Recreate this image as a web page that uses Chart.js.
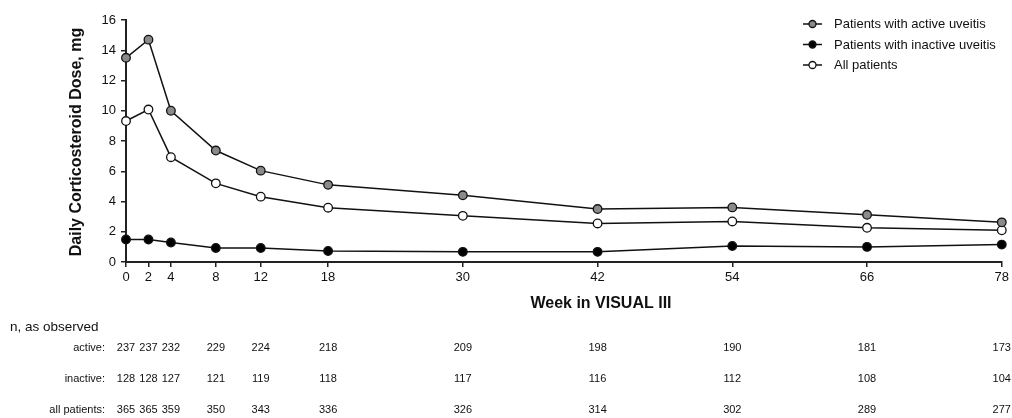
<!DOCTYPE html>
<html>
<head>
<meta charset="utf-8">
<script src="https://cdn.jsdelivr.net/npm/chart.js@4.4.1/dist/chart.umd.min.js"></script>
<style>
  html, body { margin: 0; padding: 0; background: #fff; }
  #wrap { width: 1012px; height: 418px; position: relative; }
</style>
</head>
<body>
<div id="wrap"><canvas id="c" width="1012" height="418"></canvas></div>
<script>
// weeks on the x axis
const weeks = [0, 2, 4, 8, 12, 18, 30, 42, 54, 66, 78];

// daily corticosteroid dose, mg
const activeDose   = [13.5, 14.7, 10.0, 7.37, 6.04, 5.1, 4.41, 3.5, 3.61, 3.12, 2.62];
const inactiveDose = [1.49, 1.49, 1.29, 0.93, 0.93, 0.73, 0.67, 0.67, 1.06, 1.0, 1.15];
const allDose      = [9.32, 10.08, 6.93, 5.2, 4.32, 3.59, 3.05, 2.55, 2.68, 2.26, 2.1];

// n, as observed
const nActive   = [237, 237, 232, 229, 224, 218, 209, 198, 190, 181, 173];
const nInactive = [128, 128, 127, 121, 119, 118, 117, 116, 112, 108, 104];
const nAll      = [365, 365, 359, 350, 343, 336, 326, 314, 302, 289, 277];

const seriesNames = ["Patients with active uveitis", "Patients with inactive uveitis", "All patients"];
const seriesFill = ["#8a8a8a", "#000000", "#ffffff"];
const yTicks = [0, 2, 4, 6, 8, 10, 12, 14, 16];

const FONT = "'Liberation Sans', Arial, sans-serif";

function pts(vals) {
  return weeks.map((w, i) => ({ x: w, y: vals[i] }));
}

function ds(label, vals, fill) {
  return {
    label: label,
    data: pts(vals),
    borderColor: "#111",
    borderWidth: 1.5,
    pointBackgroundColor: fill,
    pointBorderColor: "#111",
    pointBorderWidth: 1.3,
    pointRadius: 4.3,
    tension: 0,
    clip: false
  };
}

const extras = {
  id: "extras",
  afterDraw(chart) {
    const ctx = chart.ctx;
    const xs = chart.scales.x;
    ctx.save();
    ctx.fillStyle = "#111";

    // y title
    ctx.save();
    ctx.translate(77, 142);
    ctx.rotate(-Math.PI / 2);
    ctx.font = "bold 16px " + FONT;
    ctx.textAlign = "center";
    ctx.textBaseline = "middle";
    ctx.fillText("Daily Corticosteroid Dose, mg", 0, 0);
    ctx.restore();

    // x title
    ctx.font = "bold 16px " + FONT;
    ctx.textAlign = "center";
    ctx.textBaseline = "middle";
    ctx.fillText("Week in VISUAL III", 601, 304);

    // legend
    const rows = [24, 44.5, 65];
    seriesNames.forEach((name, i) => {
      const y = rows[i];
      ctx.strokeStyle = "#111";
      ctx.lineWidth = 1.5;
      ctx.beginPath();
      ctx.moveTo(803, y);
      ctx.lineTo(822, y);
      ctx.stroke();
      ctx.beginPath();
      ctx.arc(812.5, y, 3.5, 0, Math.PI * 2);
      ctx.fillStyle = seriesFill[i];
      ctx.fill();
      ctx.lineWidth = 1.3;
      ctx.stroke();
      ctx.fillStyle = "#111";
      ctx.font = "13px " + FONT;
      ctx.textAlign = "left";
      ctx.fillText(name, 834, y + 0.5);
    });

    // n table
    ctx.font = "13.5px " + FONT;
    ctx.textAlign = "left";
    ctx.fillText("n, as observed", 10, 327);

    const tab = [["active:", nActive, 348], ["inactive:", nInactive, 378.5], ["all patients:", nAll, 410]];
    ctx.font = "11px " + FONT;
    tab.forEach(r => {
      ctx.textAlign = "right";
      ctx.fillText(r[0], 105, r[2]);
      ctx.textAlign = "center";
      r[1].forEach((n, i) => {
        ctx.fillText(String(n), xs.getPixelForValue(weeks[i]), r[2]);
      });
    });
    ctx.restore();
  }
};

new Chart(document.getElementById("c").getContext("2d"), {
  type: "line",
  data: {
    datasets: [
      ds(seriesNames[0], activeDose, seriesFill[0]),
      ds(seriesNames[1], inactiveDose, seriesFill[1]),
      ds(seriesNames[2], allDose, seriesFill[2])
    ]
  },
  options: {
    responsive: false,
    animation: false,
    layout: { padding: { top: 20, right: 7, left: 0, bottom: 0 } },
    plugins: { legend: { display: false }, tooltip: { enabled: false } },
    scales: {
      x: {
        type: "linear",
        min: 0,
        max: 78,
        afterBuildTicks: s => { s.ticks = weeks.map(v => ({ value: v })); },
        afterFit: s => { s.height = 156; },
        border: { display: true, color: "#222", width: 2 },
        grid: { drawOnChartArea: false, drawTicks: true, tickLength: 5, color: "#222", lineWidth: 1.5 },
        ticks: { color: "#111", font: { family: FONT, size: 13 }, padding: 3, maxRotation: 0, autoSkip: false }
      },
      y: {
        min: 0,
        max: 16,
        afterBuildTicks: s => { s.ticks = yTicks.map(v => ({ value: v })); },
        afterFit: s => { s.width = 126; },
        border: { display: true, color: "#222", width: 2 },
        grid: { drawOnChartArea: false, drawTicks: true, tickLength: 5, color: "#222", lineWidth: 1.5 },
        ticks: { color: "#111", font: { family: FONT, size: 13 }, padding: 5 }
      }
    }
  },
  plugins: [extras]
});
</script>
</body>
</html>
